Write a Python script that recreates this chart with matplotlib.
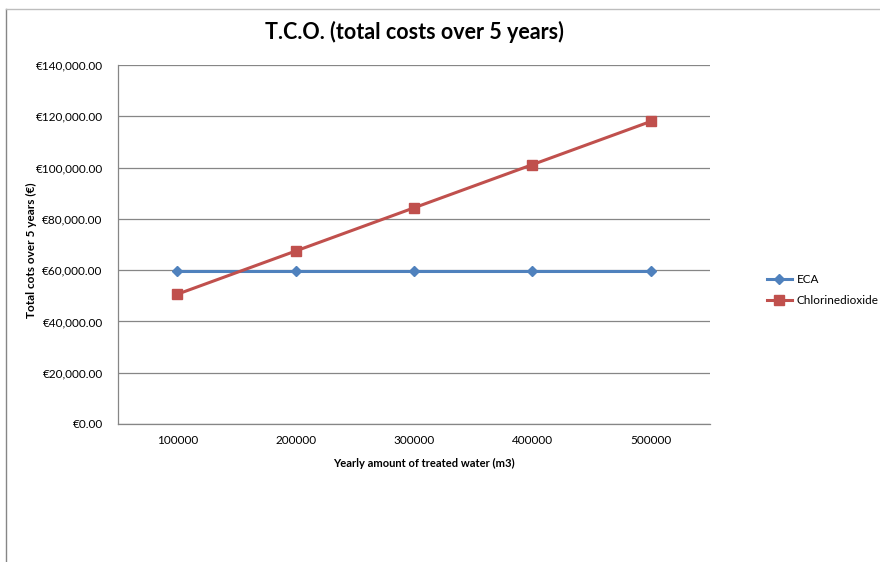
import matplotlib
matplotlib.use("Agg")
import matplotlib.pyplot as plt
from matplotlib.lines import Line2D
from matplotlib.ticker import FuncFormatter

categories = ["100000", "200000", "300000", "400000", "500000"]
eca = [59500, 59500, 59500, 59500, 59500]
chlorinedioxide = [50600, 67450, 84300, 101150, 118000]

plt.rcParams['font.family'] = ['Lato', 'DejaVu Sans']

fig = plt.figure(figsize=(8.8, 5.62), dpi=100)
# chart-area border (only left and top edges are visible in the frame)
fig.add_artist(Line2D([5.5/880, 5.5/880], [0, 1-9/562], transform=fig.transFigure,
                      color='#868686', linewidth=1.0))
fig.add_artist(Line2D([5.5/880, 1], [1-9/562, 1-9/562], transform=fig.transFigure,
                      color='#BDBDBD', linewidth=1.0))

ax = fig.add_axes([118/880, 1-424/562, 592/880, 359/562])

x = list(range(len(categories)))
ax.plot(x, eca, color='#4F81BD', linewidth=2.2, marker='D', markersize=5.5,
        label='ECA', zorder=3)
ax.plot(x, chlorinedioxide, color='#C0504D', linewidth=2.2, marker='s', markersize=6.5,
        label='Chlorinedioxide', zorder=3)

ax.set_xlim(-0.5, len(categories) - 0.5)
ax.set_ylim(0, 140000)
ax.set_yticks(range(0, 140001, 20000))
ax.yaxis.set_major_formatter(FuncFormatter(lambda v, p: "€{:,.2f}".format(v)))
ax.set_xticks(x)
ax.set_xticklabels(categories)
ax.grid(axis='y', color='#868686', linewidth=0.9)
ax.set_axisbelow(True)
for s in ['top', 'right']:
    ax.spines[s].set_visible(False)
for s in ['left', 'bottom']:
    ax.spines[s].set_color('#868686')
    ax.spines[s].set_linewidth(0.9)
ax.tick_params(axis='y', length=0, labelsize=8.5, colors='black', pad=11)
ax.tick_params(axis='x', length=0, labelsize=8.5, colors='black', pad=8)

ax.set_title("T.C.O. (total costs over 5 years)", fontsize=15.5, fontweight='bold', pad=19)
ax.set_ylabel("Total cots over 5 years (€)", fontsize=8.5, fontweight='bold')
ax.yaxis.set_label_coords(-0.137, 0.485)
ax.set_xlabel("Yearly amount of treated water (m3)", fontsize=8, fontweight='bold')
ax.xaxis.set_label_coords(0.517, -0.095)

leg = fig.legend(*ax.get_legend_handles_labels(), loc='center left',
                 bbox_to_anchor=(767/880, 1-290/562), bbox_transform=fig.transFigure,
                 frameon=False, fontsize=8.5, handlelength=2.1, labelspacing=0.85,
                 handletextpad=0.42, borderpad=0, borderaxespad=0)

fig.savefig("out.png", dpi=100)
